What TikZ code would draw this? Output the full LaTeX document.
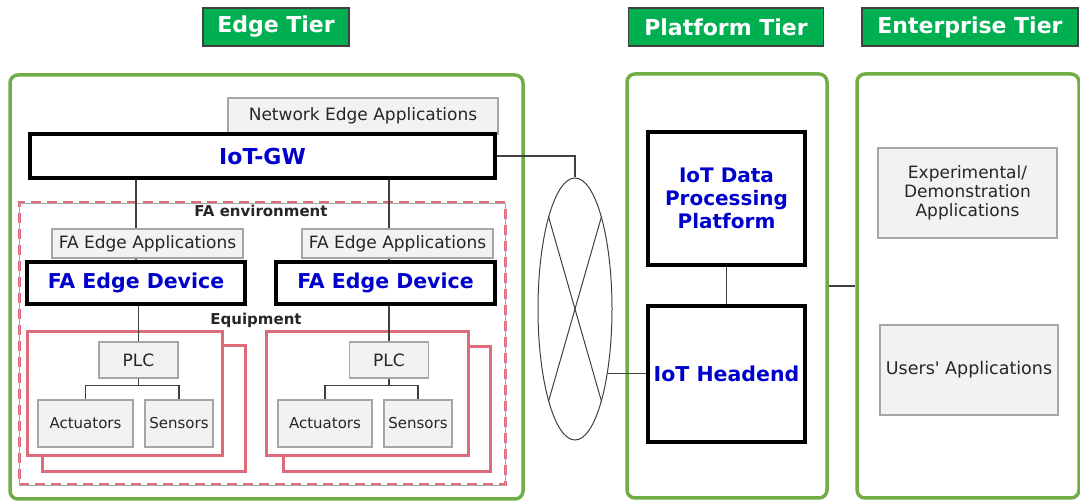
\documentclass[tikz,border=0pt]{standalone}
\usepackage{fontspec}
\setmainfont{DejaVu Sans}
\usetikzlibrary{shapes.geometric}
\definecolor{green1}{HTML}{00B050}
\definecolor{green5}{HTML}{70AD47}
\definecolor{gray1}{HTML}{262626}
\definecolor{gray3}{HTML}{404040}
\definecolor{gray6}{HTML}{A6A6A6}
\definecolor{gray9}{HTML}{F2F2F2}
\definecolor{red5}{HTML}{DE6B79}
\definecolor{blue2}{HTML}{0000CC}

\begin{document}
\begin{tikzpicture}[x=1pt, y=-1pt, align=center, inner sep=0pt,
  tier/.style={draw=gray3, line width=1.2pt, fill=green1, text=white, font=\fontsize{22}{24}\selectfont\bfseries},
  tierframe/.style={draw=green5, line width=3.5pt, rounded corners=8pt},
  app/.style={draw=gray6, line width=1.2pt, fill=gray9, text=gray1, font=\fontsize{17}{19}\selectfont},
  part/.style={app, font=\fontsize{15}{17}\selectfont},
  dev/.style={draw=black, line width=4pt, fill=white, text=blue2, font=\fontsize{20.5}{23}\selectfont\bfseries},
  equip/.style={draw=red5, line width=3pt, fill=white},
  lbl/.style={text=gray1, font=\fontsize{15}{17}\selectfont\bfseries},
  wire/.style={draw=gray3, line width=1.2pt}]
\useasboundingbox (0,0) rectangle (1080,502);

% tiers
\node[tierframe, minimum width=513pt, minimum height=424pt] (edgeF) at (266.5,287) {};
\node[tierframe, minimum width=200pt, minimum height=424pt] (platF) at (727,286) {};
\node[tierframe, minimum width=222pt, minimum height=424pt] (entF) at (968,286) {};
\node[tier, minimum width=146pt, minimum height=38pt] (edgeT) at (276,27) {Edge Tier};
\node[tier, minimum width=195pt, minimum height=38pt] (platT) at (726,27) {Platform Tier};
\node[tier, minimum width=216pt, minimum height=38pt] (entT) at (970,27) {Enterprise Tier};

% edge tier
\node[draw=red5, dash pattern=on 10pt off 6pt, line width=3pt,
  postaction={draw=gray6, solid, line width=0.5pt},
  minimum width=486pt, minimum height=282pt] (env) at (262,344) {};
\node[lbl] (envL) at (261,211) {FA environment};
\node[app, minimum width=270pt, minimum height=36pt] (nea) at (363,116) {Network Edge Applications};
\node[dev, minimum width=465pt, minimum height=44pt, font=\fontsize{22}{24}\selectfont\bfseries] (gw) at (262.5,156) {IoT-GW};
\node[app, minimum width=191pt, minimum height=29pt] (feaL) at (147.5,243.5) {FA Edge Applications};
\node[app, minimum width=191pt, minimum height=29pt] (feaR) at (397.5,243.5) {FA Edge Applications};
\node[dev, minimum width=218pt, minimum height=42pt] (devL) at (136,283) {FA Edge Device};
\node[dev, minimum width=219pt, minimum height=42pt] (devR) at (385.5,283) {FA Edge Device};
\node[lbl] (eqL) at (256,320) {Equipment};

\node[equip, minimum width=203pt, minimum height=126pt] (backL) at (143.5,409) {};
\node[equip, minimum width=195pt, minimum height=124pt] (frontL) at (124.5,394) {};
\node[equip, minimum width=207pt, minimum height=125pt] (backR) at (386.5,409.5) {};
\node[equip, minimum width=202pt, minimum height=124pt] (frontR) at (367,394) {};

\node[app, minimum width=79pt, minimum height=36pt] (plcL) at (138.5,360) {PLC};
\node[app, minimum width=79pt, minimum height=36pt] (plcR) at (389,360) {PLC};
\node[part, minimum width=95pt, minimum height=47pt] (actL) at (85.5,423.5) {Actuators};
\node[part, minimum width=68pt, minimum height=47pt] (senL) at (179,423.5) {Sensors};
\node[part, minimum width=94pt, minimum height=47pt] (actR) at (325,423.5) {Actuators};
\node[part, minimum width=68pt, minimum height=47pt] (senR) at (418,423.5) {Sensors};

\draw[wire] (gw.south -| devL) -- (feaL.north -| devL);
\draw[wire] (feaL.south -| devL) -- (devL.north);
\draw[wire] (gw.south -| plcR) -- (feaR.north -| plcR);
\draw[wire] (feaR.south -| plcR) -- (devR.north -| plcR);
\draw[wire] (devL.south -| plcL) -- (plcL.north);
\draw[wire] (devR.south -| plcR) -- (plcR.north);
\draw[wire] (plcL.south) -- ++(0,7) -| (actL.north);
\draw[wire] (plcL.south) -- ++(0,7) -| (senL.north);
\draw[wire] (plcR.south) -- ++(0,7) -| (actR.north);
\draw[wire] (plcR.south) -- ++(0,7) -| (senR.north);

% network
\node[draw=gray3, line width=1pt, ellipse, minimum width=74pt, minimum height=262pt] (net) at (575,309) {};
\draw[wire, line width=1pt] (net.106) -- (net.-74);
\draw[wire, line width=1pt] (net.74) -- (net.-106);
\draw[wire] (gw.east) -| (net.north);

% platform tier
\node[dev, minimum width=157pt, minimum height=133pt, font=\fontsize{20}{23}\selectfont\bfseries] (data) at (726.5,198.5) {IoT Data\\Processing\\Platform};
\node[dev, minimum width=157pt, minimum height=136pt] (head) at (726.5,374) {IoT Headend};
\draw[wire] (data.south) -- (head.north);
\draw[wire] (net.-63) -- (net.-63 -| head.west);

% enterprise tier
\node[app, minimum width=179pt, minimum height=90pt, font=\fontsize{17}{19}\selectfont] (exp) at (967.5,193) {Experimental/\\Demonstration\\Applications};
\node[app, minimum width=178pt, minimum height=90pt, font=\fontsize{17.5}{19}\selectfont] (users) at (969,370) {Users\textquotesingle\ Applications};
\draw[wire] (platF.east) -- (entF.west);
\end{tikzpicture}
\end{document}
